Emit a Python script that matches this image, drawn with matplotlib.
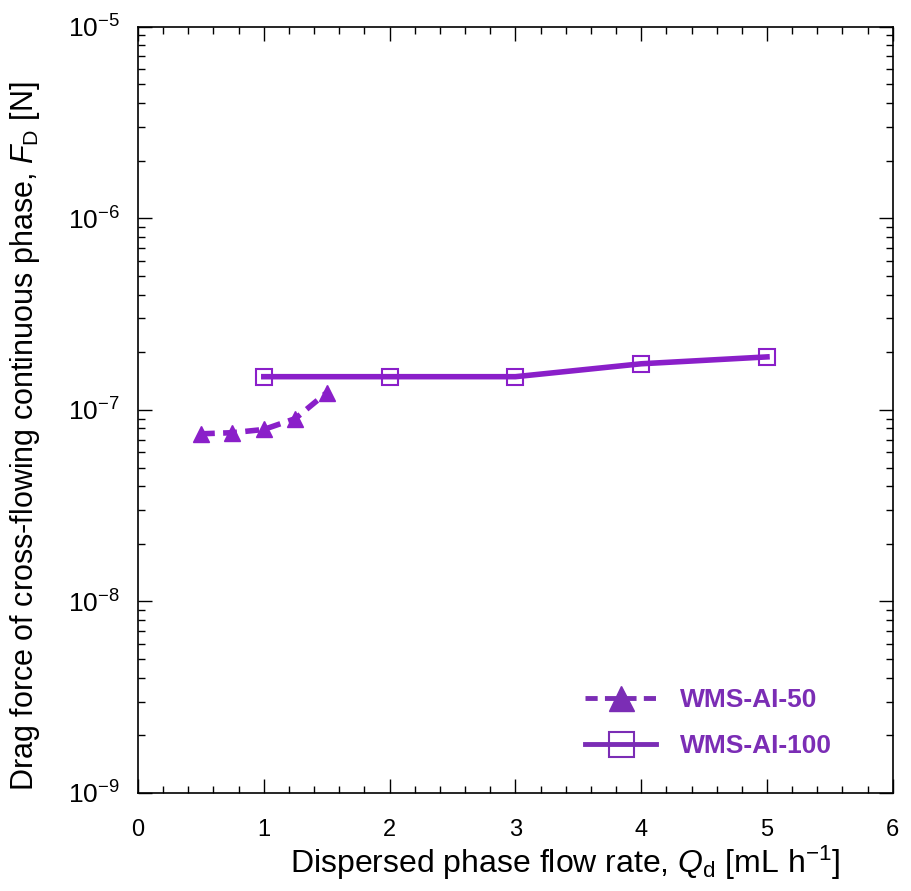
import numpy as np
import matplotlib.pyplot as plt
from matplotlib.ticker import MultipleLocator, LogLocator, NullFormatter, FuncFormatter

plt.rcParams['font.family'] = ['Liberation Sans', 'DejaVu Sans']
plt.rcParams['mathtext.fontset'] = 'custom'
plt.rcParams['mathtext.rm'] = 'Liberation Sans'
plt.rcParams['mathtext.it'] = 'Liberation Sans:italic'

# WMS-AI-50 (triangles, dashed)
q50 = [0.5, 0.75, 1.0, 1.25, 1.5]
fd50 = [7.5e-8, 7.6e-8, 7.9e-8, 9.0e-8, 1.23e-7]

# WMS-AI-100 (open squares, solid)
q100 = [1, 2, 3, 4, 5]
fd100 = [1.49e-7, 1.49e-7, 1.49e-7, 1.74e-7, 1.89e-7]

purple = '#8A1FC9'
leg_purple = '#7B2DB5'

fig = plt.figure(figsize=(9.11, 8.91), dpi=100)
ax = fig.add_axes([0.1515, 0.110, 0.8285, 0.860])

ax.plot(q50, fd50, '--', color=purple, lw=4, marker='^', ms=12,
        mfc=purple, mec=purple, dashes=(2.5, 1.5), label='WMS-AI-50')
ax.plot(q100, fd100, '-', color=purple, lw=4, marker='s', ms=12,
        mfc='none', mec=purple, mew=1.5, label='WMS-AI-100')

ax.set_yscale('log')
ax.set_xlim(0, 6)
ax.set_ylim(1e-9, 1e-5)
ax.xaxis.set_major_locator(MultipleLocator(1))
ax.xaxis.set_minor_locator(MultipleLocator(0.2))
ax.yaxis.set_major_locator(LogLocator(base=10))
ax.yaxis.set_minor_locator(LogLocator(base=10, subs=np.arange(2, 10)))
ax.yaxis.set_minor_formatter(NullFormatter())
ax.yaxis.set_major_formatter(FuncFormatter(lambda v, p: '10$^{%d}$' % round(np.log10(v))))

ax.tick_params(which='both', direction='in', top=True, right=True, width=1)
ax.tick_params(which='major', length=10)
ax.tick_params(which='minor', length=5)
ax.tick_params(axis='x', which='major', labelsize=17, pad=19)
ax.tick_params(axis='y', which='major', labelsize=19, pad=13)
for s in ax.spines.values():
    s.set_linewidth(1.2)

ax.set_xlabel('Dispersed phase flow rate, $\\mathit{Q}_\\mathrm{d}$ [mL h$^{\\mathrm{-1}}$]', fontsize=23)
ax.set_ylabel('Drag force of cross-flowing continuous phase, $\\mathit{F}_\\mathrm{D}$ [N]', fontsize=22)
ax.xaxis.set_label_coords(0.566, -0.066)
ax.yaxis.set_label_coords(-0.127, 0.465)

leg = ax.legend(loc='upper left', bbox_to_anchor=(585 / 911, 1 - 688 / 891), bbox_transform=fig.transFigure,
                frameon=False, fontsize=19, handlelength=2.7, labelspacing=0.85, handletextpad=0.9,
                borderpad=0, borderaxespad=0, markerscale=1.5)
for t in leg.get_texts():
    t.set_color(leg_purple)
    t.set_fontweight('bold')
for h in leg.legend_handles:
    h.set_color(leg_purple)
    h.set_markeredgecolor(leg_purple)
    h.set_linewidth(3.5)
leg.legend_handles[0].set_markerfacecolor(leg_purple)

fig.savefig('out.png', dpi=100)
